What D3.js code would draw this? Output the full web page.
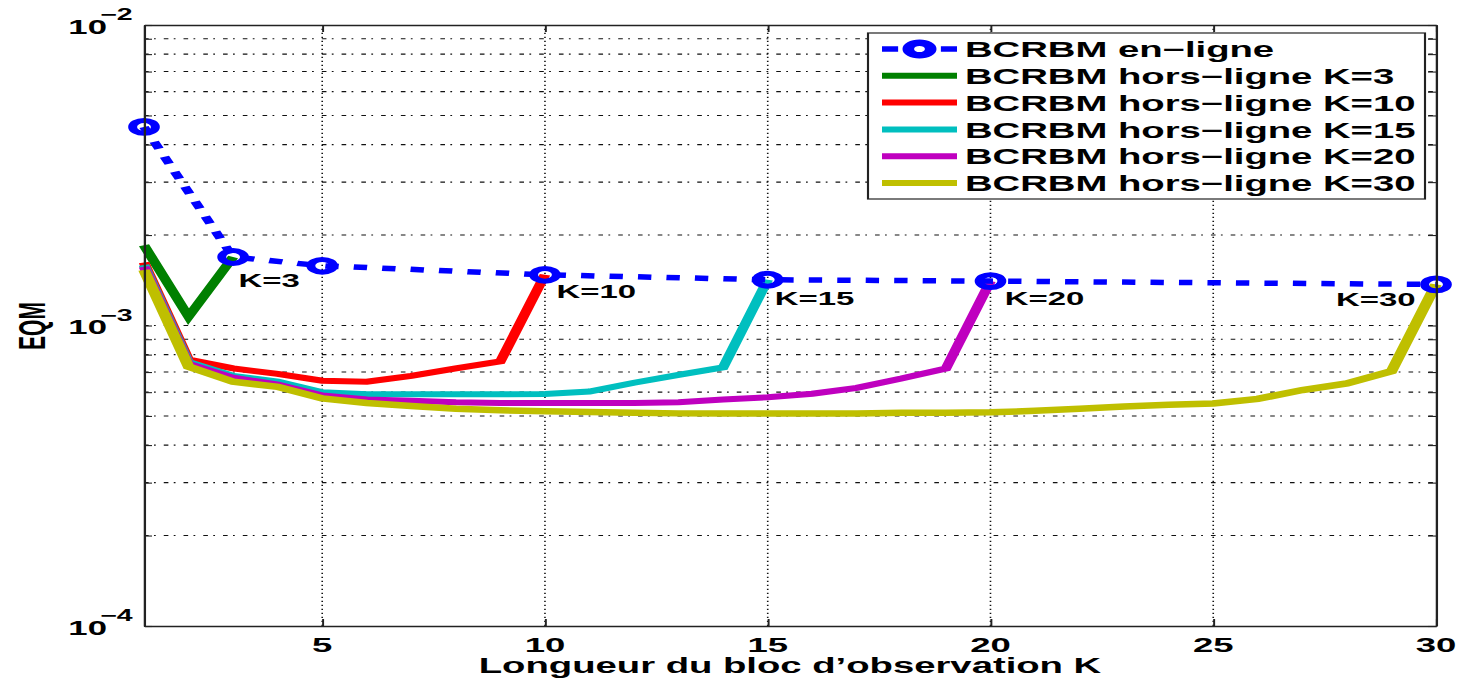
<!DOCTYPE html>
<html>
<head>
<meta charset="utf-8">
<script src="https://cdn.jsdelivr.net/npm/d3@7"></script>
<style>
  html, body { margin: 0; padding: 0; background: #fff; }
  svg { display: block; }
  text { font-family: "Liberation Sans", Arial, Helvetica, sans-serif; font-weight: bold; fill: #000; }
</style>
</head>
<body>
<svg id="chart"></svg>
<script>
// ---------------- data ----------------
const xTicks = [5, 10, 15, 20, 25, 30];
const yMajor = [1e-4, 1e-3, 1e-2];
const yMajorExp = ["\u22124", "\u22123", "\u22122"];
const xLabel = "Longueur du bloc d\u2019observation K";
const yLabel = "EQM";

const kOnline = [1, 3, 5, 10, 15, 20, 30];
const eqmOnline = [4.58e-3, 1.69e-3, 1.58e-3, 1.475e-3, 1.42e-3, 1.405e-3, 1.37e-3];

const eqmOff3 = [1.85e-3, 1.07e-3, 1.69e-3];
const eqmOff10 = [1.62e-3, 7.7e-4, 7.2e-4, 6.9e-4, 6.55e-4, 6.5e-4, 6.8e-4, 7.2e-4, 7.6e-4, 1.475e-3];
const eqmOff15 = [1.59e-3, 7.55e-4, 6.8e-4, 6.5e-4, 6.0e-4, 5.9e-4, 5.9e-4, 5.9e-4, 5.9e-4, 5.92e-4,
                  6.03e-4, 6.45e-4, 6.85e-4, 7.26e-4, 1.42e-3];
const eqmOff20 = [1.57e-3, 7.45e-4, 6.7e-4, 6.36e-4, 5.85e-4, 5.67e-4, 5.62e-4, 5.55e-4, 5.52e-4, 5.52e-4,
                  5.52e-4, 5.52e-4, 5.55e-4, 5.67e-4, 5.77e-4, 5.93e-4, 6.2e-4, 6.66e-4, 7.19e-4, 1.405e-3];
const eqmOff30 = [1.53e-3, 7.3e-4, 6.5e-4, 6.25e-4, 5.72e-4, 5.52e-4, 5.4e-4, 5.28e-4, 5.22e-4, 5.18e-4,
                  5.15e-4, 5.12e-4, 5.1e-4, 5.1e-4, 5.1e-4, 5.1e-4, 5.1e-4, 5.12e-4, 5.12e-4, 5.14e-4,
                  5.2e-4, 5.28e-4, 5.38e-4, 5.45e-4, 5.5e-4, 5.7e-4, 6.1e-4, 6.42e-4, 7.04e-4, 1.37e-3];

const offSeries = [eqmOff3, eqmOff10, eqmOff15, eqmOff20, eqmOff30];
const offColors = ["#008000", "#ff0000", "#00bfbf", "#bf00bf", "#bfbf00"];
const onlineColor = "#0000ff";

const legendLabels = ["BCRBM en\u2212ligne", "BCRBM hors\u2212ligne K=3", "BCRBM hors\u2212ligne K=10",
                      "BCRBM hors\u2212ligne K=15", "BCRBM hors\u2212ligne K=20", "BCRBM hors\u2212ligne K=30"];
const annotK = [3, 10, 15, 20, 30];
const annotText = ["K=3", "K=10", "K=15", "K=20", "K=30"];

// ---------------- layout (the original picture is stretched horizontally) ----------------
const SX = 1.78;
const W = 1459 / SX, H = 680;
const annotStyle = [ {dx: 3, dy: 30, a: "start"}, {dx: 6.5, dy: 23, a: "start"}, {dx: 4, dy: 25, a: "start"},
                     {dx: 8, dy: 24, a: "start"}, {dx: -11.5, dy: 21.5, a: "end"} ];

const svg = d3.select("#chart")
  .attr("width", 1459).attr("height", H)
  .attr("viewBox", `0 0 ${W} ${H}`)
  .attr("preserveAspectRatio", "none");

const x = d3.scaleLinear().domain([1, 30]).range([144 / SX, 1436 / SX]);
const y = d3.scaleLog().domain([1e-4, 1e-2]).range([626, 25]);
const [x0, x1] = x.range();
const [y0, y1] = y.range();

// minor tick values for the log axis
const yAll = [];
[1e-4, 1e-3].forEach(dec => { for (let m = 1; m <= 9; m++) yAll.push(m * dec); });
yAll.push(1e-2);

// ---------------- grid ----------------
const grid = svg.append("g");
grid.selectAll("line.h").data(yAll.filter(v => v > 1e-4 * 1.01 && v < 1e-2 * 0.99)).enter()
  .append("line").attr("class", "h")
  .attr("x1", x0).attr("x2", x1)
  .attr("y1", d => y(d)).attr("y2", d => y(d))
  .attr("stroke", "#111").attr("stroke-width", 1.1)
  .attr("stroke-dasharray", "2.6,3,1,4.5");
grid.selectAll("line.v").data(xTicks.filter(v => v < 30)).enter()
  .append("line").attr("class", "v")
  .attr("x1", d => x(d)).attr("x2", d => x(d))
  .attr("y1", y0).attr("y2", y1)
  .attr("stroke", "#111").attr("stroke-width", 0.9)
  .attr("stroke-dasharray", "1.3,2.7");

// ---------------- off-line curves ----------------
const line = d3.line().x(d => x(d.k)).y(d => y(d.v));
offSeries.forEach((vals, i) => {
  const pts = vals.map((v, j) => ({k: j + 1, v}));
  svg.append("path").datum(pts)
    .attr("d", line)
    .attr("fill", "none")
    .attr("stroke", offColors[i])
    .attr("stroke-width", i === 4 ? 6.5 : 6)
    .attr("stroke-linejoin", "miter");
});

// ---------------- on-line curve ----------------
const onPts = kOnline.map((k, i) => ({k, v: eqmOnline[i]}));
svg.append("path").datum(onPts)
  .attr("d", line)
  .attr("fill", "none")
  .attr("stroke", onlineColor)
  .attr("stroke-width", 5.5)
  .attr("stroke-dasharray", "7.5,8.5");
svg.selectAll("circle.mk").data(onPts).enter()
  .append("circle").attr("class", "mk")
  .attr("cx", d => x(d.k)).attr("cy", d => y(d.v))
  .attr("r", 6.4)
  .attr("fill", "none")
  .attr("stroke", onlineColor)
  .attr("stroke-width", 5);

// ---------------- axes box + ticks ----------------
const axisG = svg.append("g");
axisG.append("g").attr("transform", `translate(0,${y0})`)
  .call(d3.axisBottom(x).tickValues(xTicks).tickSizeInner(-7).tickSizeOuter(0).tickFormat(""));
axisG.append("g").attr("transform", `translate(0,${y1})`)
  .call(d3.axisTop(x).tickValues(xTicks).tickSizeInner(-7).tickSizeOuter(0).tickFormat(""));
axisG.append("g").attr("transform", `translate(${x0},0)`)
  .call(d3.axisLeft(y).tickValues(yAll).tickSizeInner(-4.5).tickSizeOuter(0).tickFormat(""));
axisG.append("g").attr("transform", `translate(${x1},0)`)
  .call(d3.axisRight(y).tickValues(yAll).tickSizeInner(-4.5).tickSizeOuter(0).tickFormat(""));
axisG.selectAll(".domain").attr("stroke", "#222").attr("stroke-width", 1.3);
axisG.selectAll(".tick line").attr("stroke", "#222").attr("stroke-width", 1.1);

// ---------------- tick labels ----------------
svg.selectAll("text.xt").data(xTicks).enter()
  .append("text").attr("class", "xt")
  .attr("x", d => x(d)).attr("y", 652)
  .attr("text-anchor", "middle").attr("font-size", 20.5)
  .text(d => d);

yMajor.forEach((v, i) => {
  svg.append("text").attr("x", 60.1).attr("y", y(v) + 9)
    .attr("text-anchor", "end").attr("font-size", 19.5).text("10");
  svg.append("text").attr("x", 56.2).attr("y", y(v) - 4.5)
    .attr("text-anchor", "start").attr("font-size", 16).text(yMajorExp[i]);
});

// axis titles
svg.append("text").attr("x", (x0 + x1) / 2).attr("y", 673)
  .attr("text-anchor", "middle").attr("font-size", 21.5).text(xLabel);
svg.append("text").attr("transform", `translate(25,${326}) rotate(-90)`)
  .attr("text-anchor", "middle").attr("font-size", 21).text(yLabel);

// ---------------- annotations ----------------
annotK.forEach((k, i) => {
  const v = eqmOnline[kOnline.indexOf(k)];
  const s = annotStyle[i];
  svg.append("text")
    .attr("x", x(k) + s.dx).attr("y", y(v) + s.dy)
    .attr("text-anchor", s.a).attr("font-size", 18.5)
    .text(annotText[i]);
});

// ---------------- legend ----------------
const lg = svg.append("g");
lg.append("rect")
  .attr("x", 868 / SX).attr("y", 33)
  .attr("width", (1425 - 868) / SX).attr("height", 199 - 33)
  .attr("fill", "#fff").attr("stroke", "#222").attr("stroke-width", 1.2);
const lx1 = 882 / SX, lx2 = 957 / SX, ltx = 965 / SX;
const legendColors = [onlineColor].concat(offColors);
legendLabels.forEach((lab, i) => {
  const cy = 49 + i * 26.8;
  if (i === 0) {
    lg.append("line").attr("x1", lx1).attr("x2", lx2).attr("y1", cy).attr("y2", cy)
      .attr("stroke", onlineColor).attr("stroke-width", 5.5)
      .attr("stroke-dasharray", `${(lx2 - lx1) * 0.215},${(lx2 - lx1) * 0.57}`);
    lg.append("circle").attr("cx", (lx1 + lx2) / 2).attr("cy", cy).attr("r", 6.3)
      .attr("fill", "none").attr("stroke", onlineColor).attr("stroke-width", 6.5);
  } else {
    lg.append("line").attr("x1", lx1).attr("x2", lx2).attr("y1", cy).attr("y2", cy)
      .attr("stroke", legendColors[i]).attr("stroke-width", 6);
  }
  lg.append("text").attr("x", ltx).attr("y", cy + 8.3)
    .attr("font-size", 21.5).text(lab);
});
</script>
</body>
</html>
